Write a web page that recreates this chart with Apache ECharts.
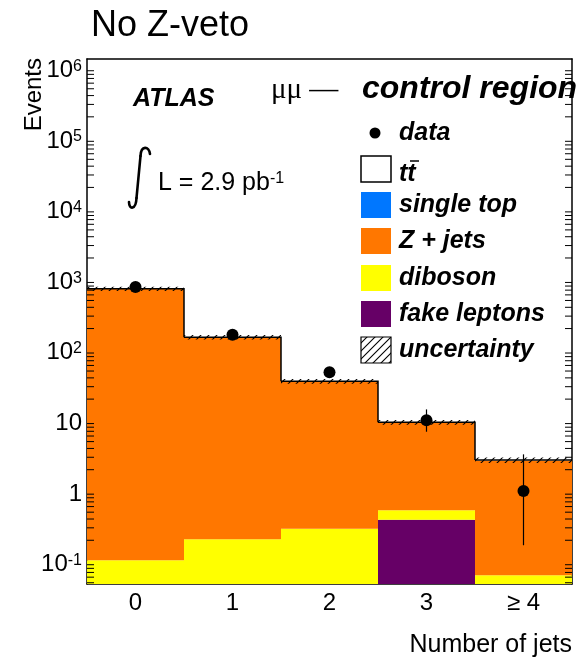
<!DOCTYPE html>
<html>
<head>
<meta charset="utf-8">
<script src="https://cdn.jsdelivr.net/npm/echarts@6/dist/echarts.min.js"></script>
<style>
html, body { margin: 0; padding: 0; background: #fff; }
#chart { width: 577px; height: 657px; }
</style>
</head>
<body>
<div id="chart"></div>
<script>
// jet multiplicity bins
var categories = ['0', '1', '2', '3', '≥ 4'];

// expected events per bin
var fakeLeptons = [0, 0, 0, 0.39, 0];
var diboson = [0.104, 0.206, 0.292, 0.144, 0.064];
var zJets = [732, 150, 35.1, 8.7, 2.63];
var singleTop = [0.05, 0.1, 0.1, 0.05, 0.01];
var ttbar = [0.4, 0.5, 0.3, 0.1, 0.03];
var uncertainty = [51, 11, 2.9, 0.75, 0.25];

// observed data (asymmetric poisson errors)
var dataCounts = [775, 163, 48, 10, 1];
var dataErrUp = [28.3, 13.3, 7.9, 4.3, 2.3];
var dataErrDown = [27.3, 12.3, 6.9, 3.1, 0.83];

// y tick labels
var yTickValues = [0.1, 1, 10, 100, 1000, 1e4, 1e5, 1e6];
var yTickLabels = ['10{sup|-1}', '1', '10', '10{sup|2}', '10{sup|3}', '10{sup|4}', '10{sup|5}', '10{sup|6}'];
var minorMultipliers = [2, 3, 4, 5, 6, 7, 8, 9];

var yMin = 0.048;
var yMax = 1.32e6;
var FONT = 'Liberation Sans';

var chart = echarts.init(document.getElementById('chart'));

// hatch pattern for the uncertainty band
var hatch = document.createElement('canvas');
hatch.width = 8;
hatch.height = 8;
var hc = hatch.getContext('2d');
hc.strokeStyle = '#000';
hc.lineWidth = 1.1;
hc.beginPath();
hc.moveTo(0, 8); hc.lineTo(8, 0);
hc.moveTo(-2, 2); hc.lineTo(2, -2);
hc.moveTo(6, 10); hc.lineTo(10, 6);
hc.stroke();

// stack from bottom to top
var stack = [
    { name: 'fake leptons', values: fakeLeptons, color: '#660066' },
    { name: 'diboson', values: diboson, color: '#ffff00' },
    { name: 'Z + jets', values: zJets, color: '#ff7700' },
    { name: 'single top', values: singleTop, color: '#0077ff' },
    { name: 'ttbar', values: ttbar, color: '#ffffff' }
];

var cum = categories.map(function () { return 0; });
var series = [];

stack.forEach(function (comp) {
    var rows = categories.map(function (c, i) {
        var lo = cum[i] > 0 ? cum[i] : yMin;
        cum[i] += comp.values[i];
        return [i, lo, cum[i]];
    });
    series.push({
        type: 'custom',
        name: comp.name,
        data: rows,
        encode: { x: 0, y: [1, 2] },
        renderItem: function (params, api) {
            var lo = api.value(1), hi = api.value(2);
            if (!(hi > lo)) return null;
            var i = api.value(0);
            var top = api.coord([i, hi]);
            var bot = api.coord([i, lo]);
            var w = api.size([1, 0], [i, 1])[0];
            return {
                type: 'rect',
                shape: { x: top[0] - w / 2, y: top[1], width: w, height: bot[1] - top[1] },
                style: { fill: comp.color }
            };
        },
        z: 2
    });
});

var total = cum.slice();

// black step outline of the total
series.push({
    type: 'custom',
    name: 'outline',
    data: total.map(function (t, i) { return [i, t, i + 1 < total.length ? total[i + 1] : t]; }),
    encode: { x: 0, y: [1, 2] },
    renderItem: function (params, api) {
        var i = api.value(0);
        var p = api.coord([i, api.value(1)]);
        var pn = api.coord([i, api.value(2)]);
        var w = api.size([1, 0], [i, 1])[0];
        var pts = [[p[0] - w / 2, p[1]], [p[0] + w / 2, p[1]]];
        if (i + 1 < categories.length) pts.push([p[0] + w / 2, pn[1]]);
        return {
            type: 'polyline',
            shape: { points: pts },
            style: { stroke: '#000', lineWidth: 1.5, fill: null }
        };
    },
    z: 3
});

// hatched uncertainty band
series.push({
    type: 'custom',
    name: 'uncertainty',
    data: total.map(function (t, i) { return [i, t - uncertainty[i], t + uncertainty[i]]; }),
    encode: { x: 0, y: [1, 2] },
    renderItem: function (params, api) {
        var i = api.value(0);
        var top = api.coord([i, api.value(2)]);
        var bot = api.coord([i, api.value(1)]);
        var w = api.size([1, 0], [i, 1])[0];
        return {
            type: 'rect',
            shape: { x: top[0] - w / 2, y: top[1], width: w, height: bot[1] - top[1] },
            style: { fill: { image: hatch, repeat: 'repeat' } }
        };
    },
    z: 4
});

// data error bars
series.push({
    type: 'custom',
    name: 'errors',
    data: dataCounts.map(function (d, i) { return [i, d - dataErrDown[i], d + dataErrUp[i]]; }),
    encode: { x: 0, y: [1, 2] },
    renderItem: function (params, api) {
        var i = api.value(0);
        var a = api.coord([i, api.value(1)]);
        var b = api.coord([i, api.value(2)]);
        return {
            type: 'line',
            shape: { x1: a[0], y1: a[1], x2: b[0], y2: b[1] },
            style: { stroke: '#000', lineWidth: 1.2 }
        };
    },
    z: 5
});

series.push({
    type: 'scatter',
    name: 'data',
    data: dataCounts.map(function (d, i) { return [i, d]; }),
    symbol: 'circle',
    symbolSize: 12,
    itemStyle: { color: '#000', opacity: 1 },
    z: 6
});

// minor log ticks on both y sides
var minorTicks = [];
for (var e = -2; e <= 6; e++) {
    minorMultipliers.forEach(function (m) {
        var v = m * Math.pow(10, e);
        if (v > yMin && v < yMax) minorTicks.push([0, v]);
    });
}
series.push({
    type: 'custom',
    name: 'minor',
    data: minorTicks,
    silent: true,
    renderItem: function (params, api) {
        var cs = params.coordSys;
        var p = api.coord([0, api.value(1)]);
        return {
            type: 'group',
            children: [
                { type: 'line', shape: { x1: cs.x, y1: p[1], x2: cs.x + 7, y2: p[1] }, style: { stroke: '#000', lineWidth: 1 } },
                { type: 'line', shape: { x1: cs.x + cs.width - 7, y1: p[1], x2: cs.x + cs.width, y2: p[1] }, style: { stroke: '#000', lineWidth: 1 } }
            ]
        };
    },
    z: 7
});

var axisLine = { show: true, onZero: false, lineStyle: { color: '#000', width: 1.5 } };

function yLabel(v) {
    for (var k = 0; k < yTickValues.length; k++) {
        if (Math.abs(Math.log10(v) - Math.log10(yTickValues[k])) < 1e-6) return yTickLabels[k];
    }
    return '';
}

var legendRows = [
    { label: 'data', y: 133, kind: 'dot' },
    { label: 'tt', y: 169, kind: 'box', fill: '#ffffff', stroke: '#000' },
    { label: 'single top', y: 205, kind: 'box', fill: '#0077ff' },
    { label: 'Z + jets', y: 241, kind: 'box', fill: '#ff7700' },
    { label: 'diboson', y: 278, kind: 'box', fill: '#ffff00' },
    { label: 'fake leptons', y: 314, kind: 'box', fill: '#660066' },
    { label: 'uncertainty', y: 350, kind: 'hatch' }
];

var integralStroke = { stroke: '#000', lineWidth: 2.6, fill: null, lineCap: 'round' };

var graphics = [
    { type: 'text', x: 91, y: 26, style: { text: 'No Z-veto', font: '36px "' + FONT + '"', fill: '#000', align: 'left', verticalAlign: 'middle' } },
    { type: 'text', x: 34, y: 58, rotation: Math.PI / 2, style: { text: 'Events', font: '24px "' + FONT + '"', fill: '#000', align: 'right', verticalAlign: 'middle' } },
    { type: 'text', x: 572, y: 645, style: { text: 'Number of jets', font: '25px "' + FONT + '"', fill: '#000', align: 'right', verticalAlign: 'middle' } },
    { type: 'text', x: 133, y: 99, style: { text: 'ATLAS', font: 'italic bold 25px "' + FONT + '"', fill: '#000', align: 'left', verticalAlign: 'middle' } },
    { type: 'text', x: 271, y: 90, style: { text: 'μμ —', font: '29px "Liberation Serif"', fill: '#000', align: 'left', verticalAlign: 'middle' } },
    { type: 'text', x: 362, y: 89, style: { text: 'control region', font: 'italic bold 32px "' + FONT + '"', fill: '#000', align: 'left', verticalAlign: 'middle' } },
    // integral sign
    { type: 'bezierCurve', shape: { x1: 150, y1: 154, cpx1: 149, cpy1: 146, cpx2: 141, cpy2: 145, x2: 140.5, y2: 156 }, style: integralStroke },
    { type: 'line', shape: { x1: 140.5, y1: 156, x2: 136.5, y2: 198 }, style: integralStroke },
    { type: 'bezierCurve', shape: { x1: 136.5, y1: 198, cpx1: 136, cpy1: 210, cpx2: 129, cpy2: 210, x2: 129, y2: 202 }, style: integralStroke },
    { type: 'text', x: 158, y: 183, style: { text: 'L = 2.9 pb{sup|-1}', font: '25px "' + FONT + '"', fill: '#000', align: 'left', verticalAlign: 'middle',
        rich: { sup: { fontSize: 16, fontFamily: FONT, verticalAlign: 'top', lineHeight: 16 } } } }
];

legendRows.forEach(function (r) {
    if (r.kind === 'dot') {
        graphics.push({ type: 'circle', shape: { cx: 375, cy: r.y, r: 5.5 }, style: { fill: '#000' } });
    } else if (r.kind === 'hatch') {
        graphics.push({ type: 'rect', shape: { x: 361, y: r.y - 13, width: 30, height: 26 }, style: { fill: { image: hatch, repeat: 'repeat' }, stroke: '#000', lineWidth: 1.2 } });
    } else {
        graphics.push({ type: 'rect', shape: { x: 361, y: r.y - 13, width: 30, height: 26 }, style: { fill: r.fill, stroke: r.stroke || null, lineWidth: 1.5 } });
    }
    graphics.push({ type: 'text', x: 399, y: r.label === 'tt' ? r.y + 5 : r.y, style: { text: r.label, font: 'italic bold 25px "' + FONT + '"', fill: '#000', align: 'left', verticalAlign: 'middle' } });
});
// bar over the second t
graphics.push({ type: 'line', shape: { x1: 410, y1: 161, x2: 419, y2: 161 }, style: { stroke: '#000', lineWidth: 1.5 } });

var option = {
    animation: false,
    backgroundColor: '#fff',
    grid: { left: 87, right: 5, top: 59, bottom: 73, containLabel: false, outerBoundsMode: 'none' },
    xAxis: [
        {
            type: 'category', data: categories, position: 'bottom', boundaryGap: true,
            axisLine: axisLine,
            axisTick: { inside: true, length: 17, alignWithLabel: true, lineStyle: { color: '#000', width: 1 } },
            axisLabel: { color: '#000', fontSize: 24, fontFamily: FONT, margin: 7 },
            splitLine: { show: false }
        },
        {
            type: 'category', data: categories, position: 'top', boundaryGap: true,
            axisLine: axisLine,
            axisTick: { inside: true, length: 17, alignWithLabel: true, lineStyle: { color: '#000', width: 1 } },
            axisLabel: { show: false },
            splitLine: { show: false }
        }
    ],
    yAxis: [
        {
            type: 'log', logBase: 10, min: yMin, max: yMax, position: 'left',
            axisLine: axisLine,
            axisTick: { inside: true, length: 13, lineStyle: { color: '#000', width: 1 } },
            axisLabel: {
                color: '#000', fontSize: 24, fontFamily: FONT, margin: 5,
                showMinLabel: false, showMaxLabel: false,
                formatter: yLabel,
                padding: [6, 0, 0, 0],
                rich: { sup: { fontSize: 16, fontFamily: FONT, color: '#000', verticalAlign: 'top', lineHeight: 16 } }
            },
            splitLine: { show: false }
        },
        {
            type: 'log', logBase: 10, min: yMin, max: yMax, position: 'right',
            axisLine: axisLine,
            axisTick: { inside: true, length: 13, lineStyle: { color: '#000', width: 1 } },
            axisLabel: { show: false },
            splitLine: { show: false }
        }
    ],
    graphic: graphics,
    series: series
};

chart.setOption(option);
</script>
</body>
</html>
